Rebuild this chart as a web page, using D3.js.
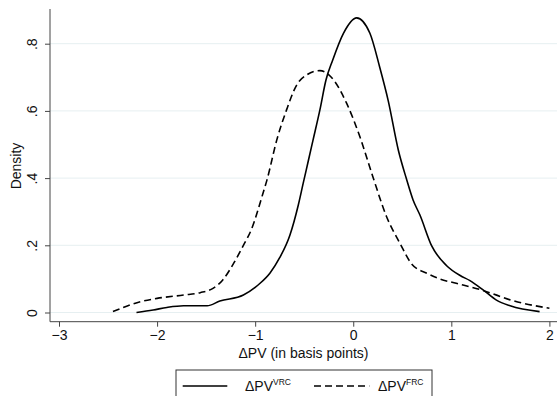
<!DOCTYPE html>
<html>
<head>
<meta charset="utf-8">
<script src="https://cdn.jsdelivr.net/npm/d3@7"></script>
<style>
  html, body { margin: 0; padding: 0; background: #fff; }
  svg { display: block; font-family: "Liberation Sans", Arial, sans-serif; }
</style>
</head>
<body>
<svg id="chart" width="557" height="396"></svg>
<script>
// Kernel density estimates of the change in present value (basis points)
const vrcX = [-2.21, -2.04, -1.90, -1.73, -1.49, -1.36, -1.12, -1.0, -0.95, -0.85, -0.75, -0.646, -0.56, -0.51, -0.459, -0.41, -0.34, -0.278, -0.21, -0.10, 0.035, 0.17, 0.27, 0.357, 0.46, 0.54, 0.61, 0.68, 0.80, 0.95, 1.09, 1.19, 1.33, 1.46, 1.60, 1.90];
const vrcY = [0.0, 0.0075, 0.015, 0.02, 0.02, 0.034, 0.052, 0.075, 0.087, 0.117, 0.163, 0.23, 0.32, 0.385, 0.45, 0.513, 0.603, 0.692, 0.751, 0.831, 0.877, 0.831, 0.73, 0.63, 0.483, 0.40, 0.335, 0.29, 0.198, 0.14, 0.11, 0.095, 0.066, 0.037, 0.02, 0.0025];

const frcX = [-2.45, -2.17, -2.0, -1.73, -1.56, -1.43, -1.33, -1.22, -1.12, -1.04, -0.92, -0.88, -0.78, -0.68, -0.577, -0.475, -0.34, -0.20, -0.068, 0.068, 0.20, 0.34, 0.476, 0.60, 0.75, 0.88, 1.05, 1.33, 1.63, 2.0];
const frcY = [0.003, 0.032, 0.042, 0.052, 0.059, 0.072, 0.097, 0.146, 0.20, 0.246, 0.355, 0.394, 0.513, 0.603, 0.677, 0.707, 0.72, 0.692, 0.623, 0.523, 0.404, 0.285, 0.206, 0.143, 0.117, 0.10, 0.087, 0.065, 0.035, 0.0125];

const xTicks = [-3, -2, -1, 0, 1, 2];
const yTicks = [0, 0.2, 0.4, 0.6, 0.8];
const yTickLabels = ["0", ".2", ".4", ".6", ".8"];
const seriesNames = ["VRC", "FRC"];

const svg = d3.select("#chart");
const plotLeft = 50, plotRight = 557, plotTop = 9, plotBottom = 321.7;
const fontSize = 14;
const dashPattern = "7,4";

const x = d3.scaleLinear().domain([-3, 2]).range([59, 549.4]);
const y = d3.scaleLinear().domain([0, 0.8]).range([312.5, 43.7]);

// horizontal grid
svg.append("g").selectAll("line").data(yTicks).join("line")
  .attr("x1", plotLeft).attr("x2", plotRight)
  .attr("y1", d => y(d)).attr("y2", d => y(d))
  .attr("stroke", "#e6eff1").attr("stroke-width", 1);

// y axis (labels are drawn rotated)
const yAxis = svg.append("g").attr("transform", `translate(${plotLeft},0)`)
  .call(d3.axisLeft(y).tickValues(yTicks).tickFormat("").tickSize(5));
yAxis.attr("font-family", null).attr("font-size", null);
yAxis.select(".domain").attr("d", `M0,${plotTop}V${plotBottom}`).attr("stroke", "#444");
yAxis.selectAll(".tick line").attr("stroke", "#444");
yAxis.selectAll(".tick").append("text")
  .attr("transform", "translate(-13,0) rotate(-90)")
  .attr("text-anchor", "middle")
  .attr("font-size", fontSize).attr("fill", "#111")
  .text((d, i) => yTickLabels[i]);

// x axis
const xAxis = svg.append("g").attr("transform", `translate(0,${plotBottom})`)
  .call(d3.axisBottom(x).tickValues(xTicks).tickFormat(d3.format("d")).tickSize(5).tickPadding(3));
xAxis.attr("font-family", null).attr("font-size", null);
xAxis.select(".domain").attr("d", `M${plotLeft},0H${plotRight}`).attr("stroke", "#444");
xAxis.selectAll(".tick line").attr("stroke", "#444");
xAxis.selectAll(".tick text").attr("font-size", fontSize).attr("fill", "#111");

// axis titles
svg.append("text").attr("x", 303.5).attr("y", 357.5).attr("text-anchor", "middle")
  .attr("font-size", fontSize).attr("fill", "#111").text("\u0394PV (in basis points)");
svg.append("text").attr("transform", "translate(21,166) rotate(-90)").attr("text-anchor", "middle")
  .attr("font-size", fontSize).attr("fill", "#111").text("Density");

// density curves
const line = d3.line().x(d => x(d[0])).y(d => y(d[1])).curve(d3.curveMonotoneX);
const vrc = vrcX.map((v, i) => [v, vrcY[i]]);
const frc = frcX.map((v, i) => [v, frcY[i]]);

svg.append("path").datum(vrc).attr("d", line)
  .attr("fill", "none").attr("stroke", "#000").attr("stroke-width", 1.6);
svg.append("path").datum(frc).attr("d", line)
  .attr("fill", "none").attr("stroke", "#000").attr("stroke-width", 1.6)
  .attr("stroke-dasharray", dashPattern);

// legend
const lg = svg.append("g");
lg.append("rect").attr("x", 176).attr("y", 370).attr("width", 256).attr("height", 40)
  .attr("fill", "#fff").attr("stroke", "#333").attr("stroke-width", 1);
const legendItems = [
  { name: seriesNames[0], x1: 182.7, x2: 227.3, tx: 245, dash: null },
  { name: seriesNames[1], x1: 314, x2: 369.3, tx: 378, dash: dashPattern }
];
const ly = 386;
legendItems.forEach(it => {
  lg.append("line").attr("x1", it.x1).attr("x2", it.x2).attr("y1", ly).attr("y2", ly)
    .attr("stroke", "#000").attr("stroke-width", 1.6)
    .attr("stroke-dasharray", it.dash);
  const t = lg.append("text").attr("x", it.tx).attr("y", ly + 5)
    .attr("font-size", fontSize).attr("fill", "#111");
  t.append("tspan").text("\u0394PV");
  t.append("tspan").attr("font-size", 8.5).attr("dy", -6).text(it.name);
});
</script>
</body>
</html>
